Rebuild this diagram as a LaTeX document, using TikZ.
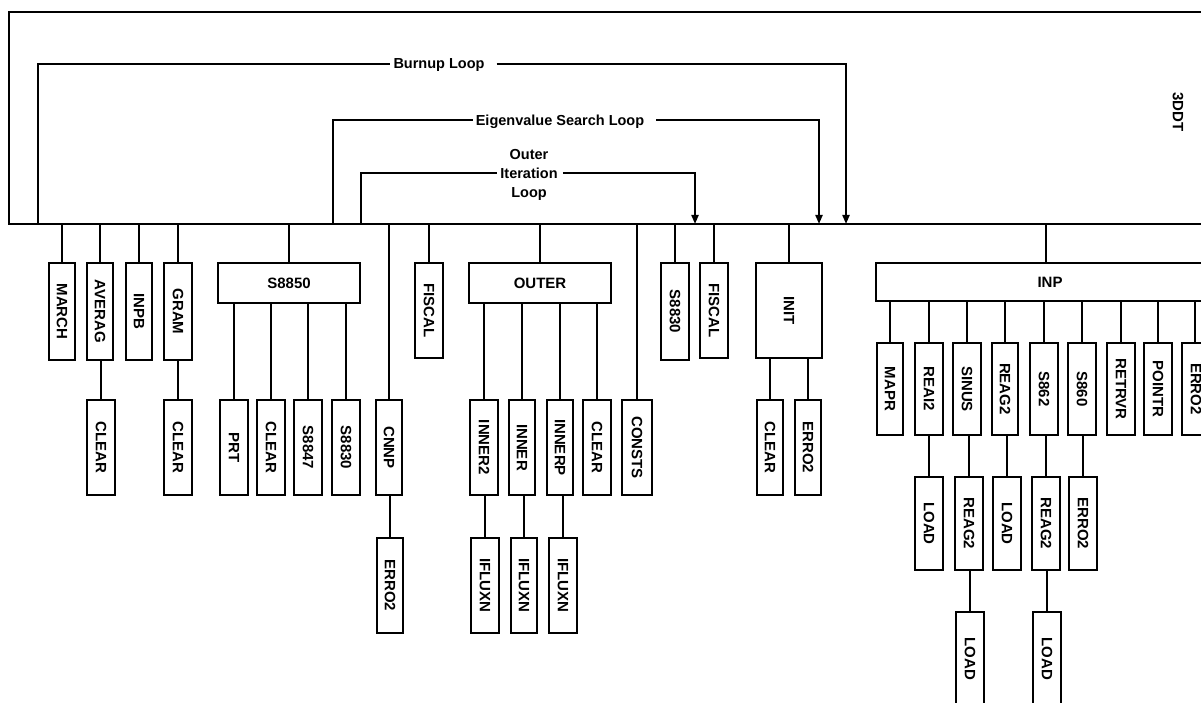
\documentclass[tikz,border=0pt]{standalone}
\usepackage{fontspec}
\setmainfont{Liberation Sans}
\usepackage{graphicx}
\usetikzlibrary{arrows.meta}
\newcommand\lbl{\fontsize{15}{18}\selectfont\bfseries}
\newcommand\llb{\fontsize{14.5}{19}\selectfont\bfseries}
\newcommand\rb[6]{\node[box, minimum width={#3-#2}, minimum height={#5-#4}] (#1) at ({(#2+#3)/2},{(#4+#5)/2}) {\rotatebox{-90}{#6}};}
\newcommand\hb[6]{\node[box, minimum width={#3-#2}, minimum height={#5-#4}] (#1) at ({(#2+#3)/2},{(#4+#5)/2}) {#6};}
\newcommand\drop[1]{\draw[conn] (#1.north) -- (#1.north |- bus);}
\newcommand\sub[2]{\draw[conn] (#2.north) -- (#2.north |- #1.south);}
\begin{document}
\begin{tikzpicture}[x=1pt,y=-1pt,
  box/.style={draw, line width=2pt, fill=white, inner sep=0pt, font=\lbl},
  conn/.style={line width=2pt},
  arr/.style={conn, -{Triangle[length=9pt,width=7pt]}},
  loopl/.style={font=\llb, inner sep=0pt, align=center, text depth=0pt}]
\useasboundingbox (0,0) rectangle (1201,703);
\clip (0,0) rectangle (1201,703);
% frame and bus
\coordinate (bus) at (0,224);
\draw[conn] (1215,12) -- (9,12) -- (9,224) -- (1215,224);
\node[font=\lbl, inner sep=0pt] (title) at (1178,112) {\rotatebox{-90}{3DDT}};
% loops
\node[loopl] (tburn) at (439,64) {Burnup Loop};
\coordinate (bl) at (38,224); \coordinate (br) at (846,224);
\draw[conn] (bl) |- ([xshift=-3pt]tburn.west);
\draw[arr] ([xshift=12pt]tburn.east) -| (br);
\node[loopl] (teig) at (560,120) {Eigenvalue Search Loop};
\coordinate (el) at (333,224); \coordinate (er) at (819,224);
\draw[conn] (el) |- ([xshift=-3pt]teig.west);
\draw[arr] ([xshift=12pt]teig.east) -| (er);
\node[loopl] (tout) at (529,173) {Outer\\Iteration\\Loop};
\coordinate (ol) at (361,224); \coordinate (or) at (695,224);
\draw[conn] (ol) |- ([xshift=-3pt]tout.west);
\draw[arr] ([xshift=5pt]tout.east) -| (or);
% level 1
\rb{march}{49}{75}{263}{360}{MARCH}
\rb{averag}{87}{113}{263}{360}{AVERAG}
\rb{inpb}{126}{152}{263}{360}{INPB}
\rb{gram}{164}{192}{263}{360}{GRAM}
\hb{s8850}{218}{360}{263}{303}{S8850}
\rb{fiscalA}{415}{443}{263}{358}{FISCAL}
\hb{outer}{469}{611}{263}{303}{OUTER}
\rb{s8830A}{661}{689}{263}{360}{S8830}
\rb{fiscalB}{700}{728}{263}{358}{FISCAL}
\rb{init}{756}{822}{263}{358}{INIT}
\hb{inp}{876}{1224}{263}{301}{INP}
% level 2
\rb{clearA}{87}{115}{400}{495}{CLEAR}
\rb{clearB}{164}{192}{400}{495}{CLEAR}
\rb{prt}{220}{248}{400}{495}{PRT}
\rb{clearC}{257}{285}{400}{495}{CLEAR}
\rb{s8847}{294}{322}{400}{495}{S8847}
\rb{s8830B}{332}{360}{400}{495}{S8830}
\rb{cnnp}{376}{402}{400}{495}{CNNP}
\rb{inner2}{470}{498}{400}{495}{INNER2}
\rb{inner}{509}{535}{400}{495}{INNER}
\rb{innerp}{547}{573}{400}{495}{INNERP}
\rb{clearD}{583}{611}{400}{495}{CLEAR}
\rb{consts}{622}{652}{400}{495}{CONSTS}
\rb{clearE}{757}{783}{400}{495}{CLEAR}
\rb{erroA}{795}{821}{400}{495}{ERRO2}
% level 3
\rb{erroB}{377}{403}{538}{633}{ERRO2}
\rb{ifluxA}{471}{499}{538}{633}{IFLUXN}
\rb{ifluxB}{511}{537}{538}{633}{IFLUXN}
\rb{ifluxC}{549}{577}{538}{633}{IFLUXN}
% INP children
\rb{mapr}{877}{903}{343}{435}{MAPR}
\rb{reai2}{915}{943}{343}{435}{REAI2}
\rb{sinus}{953}{981}{343}{435}{SINUS}
\rb{reag2A}{992}{1018}{343}{435}{REAG2}
\rb{s862}{1030}{1058}{343}{435}{S862}
\rb{s860}{1068}{1096}{343}{435}{S860}
\rb{retrvr}{1107}{1135}{343}{435}{RETRVR}
\rb{pointr}{1144}{1172}{343}{435}{POINTR}
\rb{erroC}{1182}{1210}{343}{435}{ERRO2}
\rb{loadA}{915}{943}{477}{570}{LOAD}
\rb{reag2B}{955}{983}{477}{570}{REAG2}
\rb{loadB}{993}{1021}{477}{570}{LOAD}
\rb{reag2C}{1032}{1060}{477}{570}{REAG2}
\rb{erroD}{1069}{1097}{477}{570}{ERRO2}
\rb{loadC}{956}{984}{612}{706}{LOAD}
\rb{loadD}{1033}{1061}{612}{706}{LOAD}
% connectors from bus
\drop{march}\drop{averag}\drop{inpb}\drop{gram}\drop{s8850}\drop{cnnp}
\drop{fiscalA}\drop{outer}\drop{consts}\drop{s8830A}\drop{fiscalB}\drop{init}
\draw[conn] ([xshift=-4pt]inp.north) -- ([xshift=-4pt]inp.north |- bus);
% sub connectors
\sub{averag}{clearA}\sub{gram}{clearB}
\sub{s8850}{prt}\sub{s8850}{clearC}\sub{s8850}{s8847}\sub{s8850}{s8830B}
\sub{cnnp}{erroB}
\sub{outer}{inner2}\sub{outer}{inner}\sub{outer}{innerp}\sub{outer}{clearD}
\sub{inner2}{ifluxA}\sub{inner}{ifluxB}\sub{innerp}{ifluxC}
\sub{init}{clearE}\sub{init}{erroA}
\sub{inp}{mapr}\sub{inp}{reai2}\sub{inp}{sinus}\sub{inp}{reag2A}\sub{inp}{s862}
\sub{inp}{s860}\sub{inp}{retrvr}\sub{inp}{pointr}
\draw[conn] ([xshift=-1pt]erroC.north) -- ([xshift=-1pt]erroC.north |- inp.south);
\sub{reai2}{loadA}\sub{sinus}{reag2B}\sub{reag2A}{loadB}\sub{s862}{reag2C}\sub{s860}{erroD}
\sub{reag2B}{loadC}\sub{reag2C}{loadD}
\end{tikzpicture}
\end{document}
